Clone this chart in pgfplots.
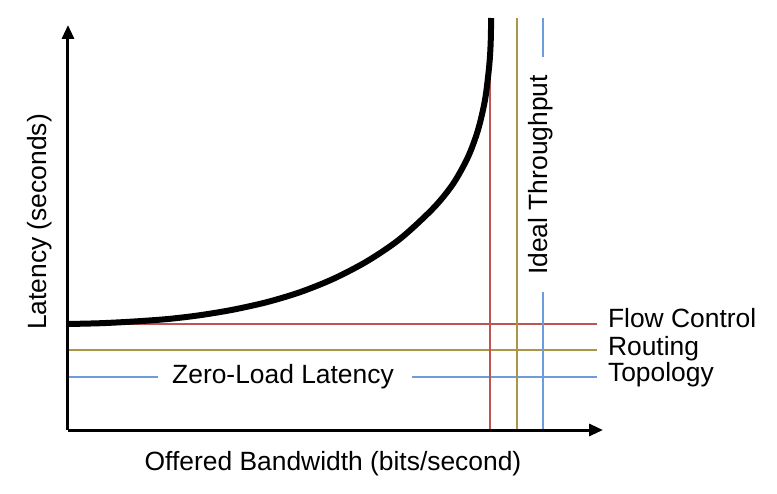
\documentclass[border=0pt]{standalone}
\usepackage{fontspec}
\setmainfont{Liberation Sans}
\usepackage{pgfplots}
\pgfplotsset{compat=1.18}
\usetikzlibrary{arrows.meta}

\definecolor{fcred}{RGB}{190,85,80}
\definecolor{rtolive}{RGB}{170,150,70}
\definecolor{tpblue}{RGB}{110,155,220}

\begin{document}
\begin{tikzpicture}[lbl/.style={font=\fontsize{13.2}{15}\selectfont}]
\begin{axis}[
    scale only axis,
    width=267.5pt, height=202.5pt,
    xmin=0, xmax=535, ymin=0, ymax=405,
    axis x line=bottom, axis y line=left,
    axis on top,
    axis line style={line width=1.5pt, -{Triangle[length=7pt,width=6pt]}},
    xtick=\empty, ytick=\empty,
    clip=false,
]
  % flow control / routing / topology latency levels
  \addplot[fcred, line width=0.6pt] coordinates {(0,106)(529,106)};
  \addplot[rtolive, line width=0.6pt] coordinates {(0,80)(529,80)};
  \addplot[tpblue, line width=0.6pt] coordinates {(0,53)(90,53)};
  \addplot[tpblue, line width=0.6pt] coordinates {(344,53)(529,53)};

  % throughput limits
  \addplot[fcred, line width=0.6pt] coordinates {(422,0)(422,412)};
  \addplot[rtolive, line width=0.6pt] coordinates {(449,0)(449,412)};
  \addplot[tpblue, line width=0.6pt] coordinates {(475,0)(475,138)};
  \addplot[tpblue, line width=0.6pt] coordinates {(475,373)(475,412)};

  % latency vs offered load
  \addplot[black, line width=3pt, smooth] coordinates {
    (0,106)(33,106.8)(66,108.5)(100,111)(132,114.8)(165,120.3)(199,127.9)
    (232,137.8)(265,151)(299,168.7)(332,191.1)(365,221.5)(385,246)(400,273)
    (410,300)(417,330)(421,362)(422.6,385)(423.2,412)
  };

  \node[lbl] at (axis cs:215,53) {Zero-Load Latency};
  \node[lbl, rotate=90] at (axis cs:473,255) {Ideal Throughput};
  \node[lbl, anchor=base west] at (axis cs:533,103) {Flow Control};
  \node[lbl, anchor=base west] at (axis cs:533,75) {Routing};
  \node[lbl, anchor=base west] at (axis cs:533,48) {Topology};
  \node[lbl] at (axis cs:265,-34) {Offered Bandwidth (bits/second)};
  \node[lbl, rotate=90] at (axis cs:-28,208) {Latency (seconds)};

  \coordinate (bl) at (axis cs:-68,-63);
  \coordinate (tr) at (axis cs:709,430);
\end{axis}
\pgfresetboundingbox
\path[use as bounding box] (bl) rectangle (tr);
\end{tikzpicture}
\end{document}
